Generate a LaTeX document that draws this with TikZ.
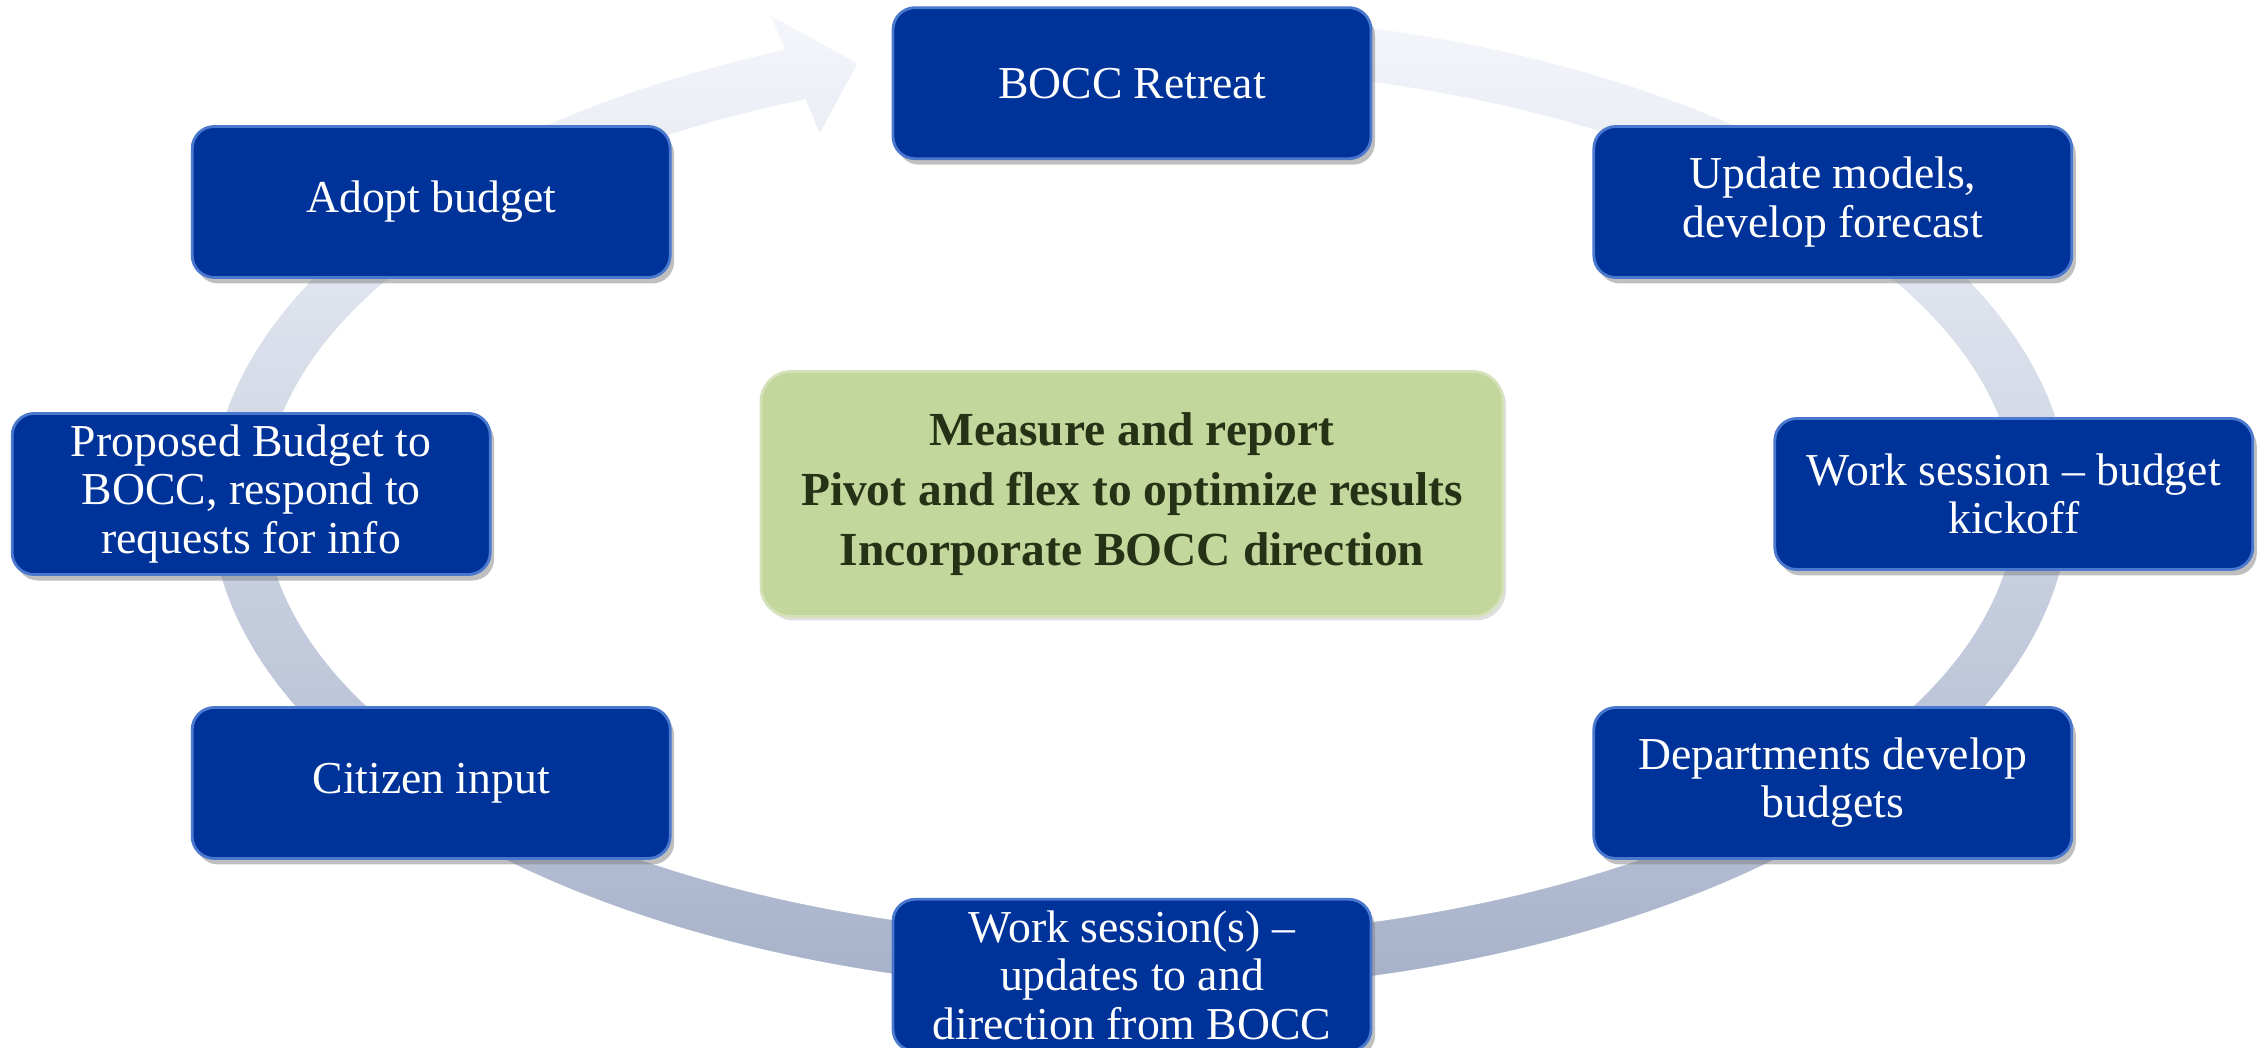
\documentclass[tikz,border=0pt]{standalone}
\usepackage{fontspec}
\setmainfont{Liberation Serif}
\usetikzlibrary{%
	calc,%
	positioning,%
	shadows,%
}
\definecolor{cblue}{RGB}{0, 51, 153}
\definecolor{cbluelight}{RGB}{74, 120, 206}
\definecolor{cgreenlight}{RGB}{195, 214, 155}
\definecolor{cgreentext}{RGB}{38, 50, 22}
\definecolor{cringlight}{RGB}{244, 246, 251}
\definecolor{cringmid}{RGB}{202, 209, 225}
\definecolor{cringdark}{RGB}{163, 175, 200}
\tikzset{
	nodes={align=center},%
	stepnode/.style={%
			rectangle,%
			rounded corners=.22cm,%
			fill=cblue,%
			draw=cbluelight,%
			line width=.8pt,%
			inner xsep=2pt,%
			minimum width=4.78cm,%
			minimum height=1.51cm,%
			text=white,%
			font={\fontsize{13}{13.7}\selectfont},%
			drop shadow={shadow xshift=.04cm, shadow yshift=-.06cm, opacity=.5}},%
	goalnode/.style={%
			rectangle,%
			rounded corners=.3cm,%
			fill=cgreenlight,%
			draw=cgreenlight!70!white,%
			line width=.8pt,%
			minimum width=7.42cm,%
			minimum height=2.45cm,%
			text=cgreentext,%
			font={\bfseries\fontsize{13.5}{17}\selectfont},%
			drop shadow={shadow xshift=.03cm, shadow yshift=-.04cm, opacity=.25}},%
	ringarrow/.style={%
			top color=cringlight,%
			middle color=cringmid,%
			bottom color=cringdark,%
			draw=white,%
			line width=.4pt},%
}

\begin{document}
\begin{tikzpicture}
	\useasboundingbox (0,0) rectangle (22.6,10.48);
	\begin{scope}[shift={(11.40,5.46)}]
		\shade[ringarrow] (80:9.3 and 4.9) arc[start angle=80, end angle=-247.5, x radius=9.3, y radius=4.9]
			-- (112.5:9.68 and 5.28) -- (108.2:9.02 and 4.62) -- (112.5:8.37 and 3.97)
			-- (112.5:8.75 and 4.35) arc[start angle=-247.5, end angle=80, x radius=8.75, y radius=4.35] -- cycle;
	\end{scope}

	\node[goalnode] (measure) at (11.32,5.54) {Measure and report\\Pivot and flex to optimize results\\Incorporate BOCC direction};
	\node[stepnode] (bocc) [above=2.1cm of measure] {BOCC Retreat};
	\node[stepnode] (work) [below=2.8cm of measure] {Work session(s) --\\updates to and\\direction from BOCC};
	\node[stepnode] (proposed) [left=2.68cm of measure] {Proposed Budget to\\BOCC, respond to\\requests for info};
	\node[stepnode] (kickoff) [right=2.69cm of measure] {Work session -- budget\\kickoff};
	\node[stepnode] (adopt) [below left=-.35cm and 2.2cm of bocc] {Adopt budget};
	\node[stepnode] (update) [below right=-.35cm and 2.2cm of bocc] {Update models,\\develop forecast};
	\node[stepnode] (citizen) [above left=.38cm and 2.2cm of work] {Citizen input};
	\node[stepnode] (depts) [above right=.38cm and 2.2cm of work] {Departments develop\\budgets};
\end{tikzpicture}
\end{document}
